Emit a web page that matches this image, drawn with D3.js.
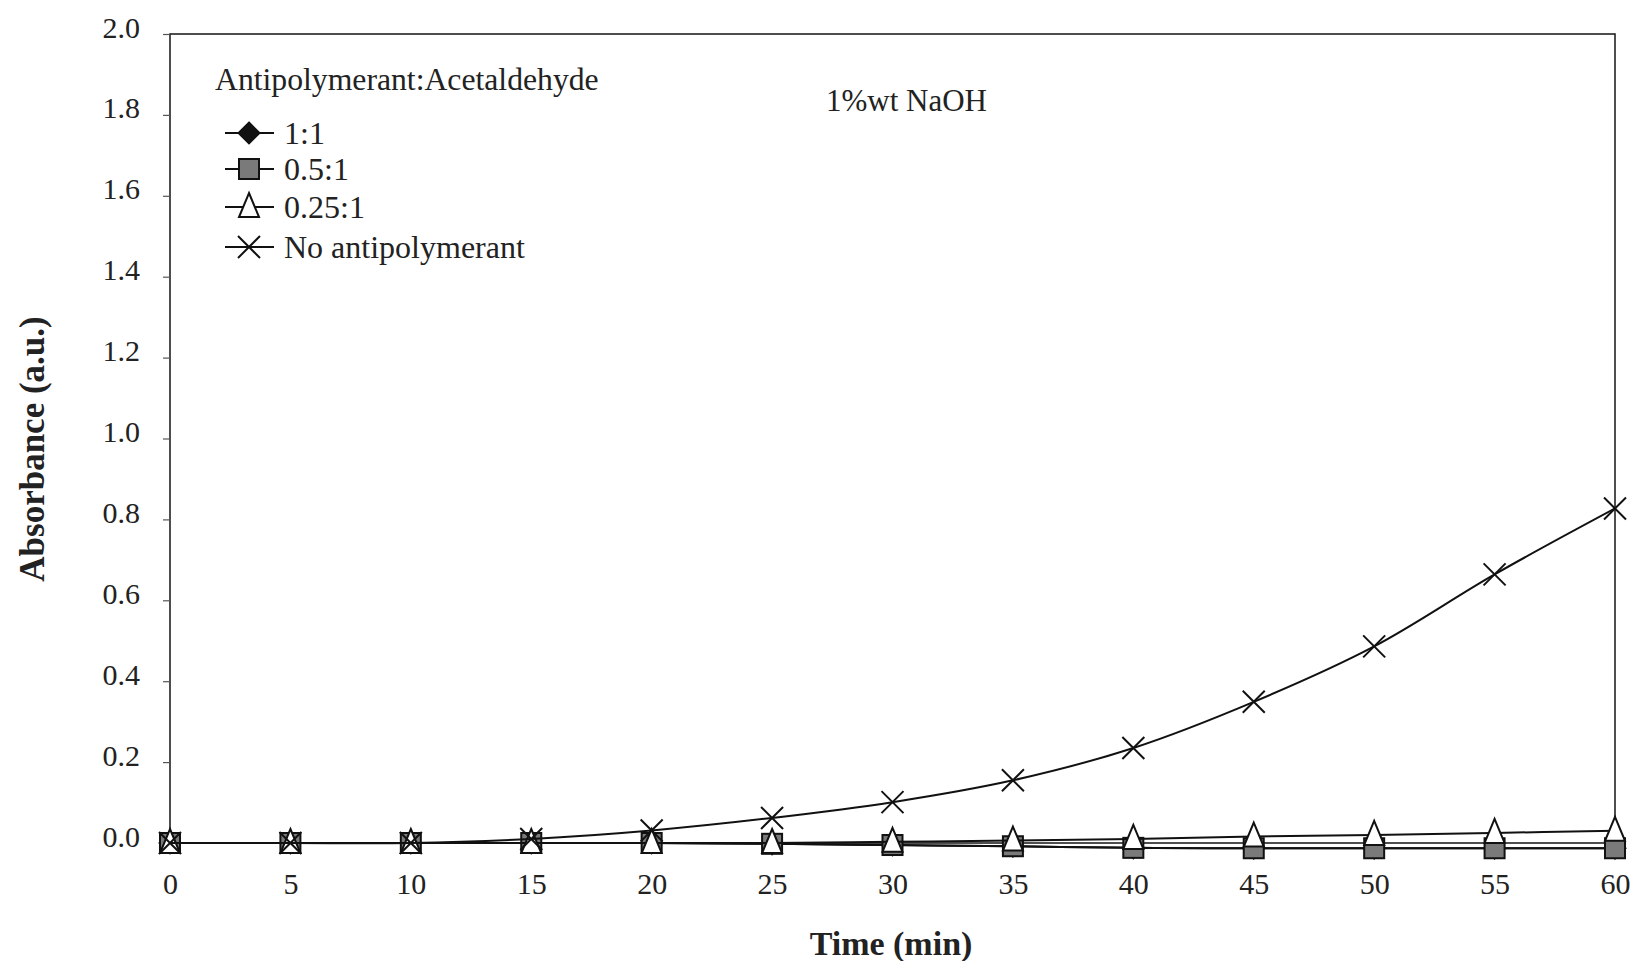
<!DOCTYPE html>
<html>
<head>
<meta charset="utf-8">
<script src="https://cdn.jsdelivr.net/npm/d3@7"></script>
<style>
  html, body { margin: 0; padding: 0; background: #fff; }
  svg { display: block; }
  text { font-family: "Liberation Serif", "DejaVu Serif", serif; fill: #222; }
</style>
</head>
<body>
<svg id="chart" width="1639" height="961"></svg>
<script>
// Time points (min)
const times = [0, 5, 10, 15, 20, 25, 30, 35, 40, 45, 50, 55, 60];

// Absorbance (a.u.) for each antipolymerant:acetaldehyde ratio
const ratio1to1    = [0, 0, 0, 0, 0, -0.002, -0.005, -0.008, -0.012, -0.013, -0.013, -0.013, -0.013];
const ratio05to1   = [0, 0, 0, 0, 0, -0.002, -0.005, -0.008, -0.012, -0.013, -0.013, -0.013, -0.013];
const ratio025to1  = [0, 0, 0, 0, 0, 0, 0.003, 0.006, 0.010, 0.016, 0.020, 0.025, 0.030];
const noAntipoly   = [0, 0, 0, 0.010, 0.031, 0.062, 0.101, 0.155, 0.235, 0.349, 0.486, 0.664, 0.827];

const yTicks = [0, 0.2, 0.4, 0.6, 0.8, 1.0, 1.2, 1.4, 1.6, 1.8, 2.0];
const xTicks = [0, 5, 10, 15, 20, 25, 30, 35, 40, 45, 50, 55, 60];

const seriesNames = ["1:1", "0.5:1", "0.25:1", "No antipolymerant"];
const seriesValues = [ratio1to1, ratio05to1, ratio025to1, noAntipoly];
const seriesMarkers = ["diamond", "square", "triangle", "cross"];

const svg = d3.select("#chart");
const plot = { left: 170, right: 1615, top: 34, bottom: 843 };

const x = d3.scaleLinear().domain([0, 60]).range([plot.left, plot.right]);
const y = d3.scaleLinear().domain([0, 2]).range([plot.bottom, plot.top]);

// Plot frame
svg.append("rect")
  .attr("x", plot.left).attr("y", plot.top)
  .attr("width", plot.right - plot.left).attr("height", plot.bottom - plot.top)
  .attr("fill", "none").attr("stroke", "#222").attr("stroke-width", 1.6);

// Y axis
const yAxis = svg.append("g")
  .attr("transform", `translate(${plot.left},0)`)
  .call(d3.axisLeft(y).tickValues(yTicks).tickFormat(d3.format(".1f")).tickSize(7).tickPadding(23));
yAxis.select(".domain").remove();
yAxis.selectAll("line").attr("stroke", "#555").attr("stroke-width", 1.2);
yAxis.selectAll("text").attr("font-size", 30).attr("dy", "0.1em")
  .style("font-family", "'Liberation Serif', serif").attr("fill", "#222");

// X axis
const xAxis = svg.append("g")
  .attr("transform", `translate(0,${plot.bottom})`)
  .call(d3.axisBottom(x).tickValues(xTicks).tickFormat(d3.format("d")).tickSize(0).tickPadding(30));
xAxis.select(".domain").remove();
xAxis.selectAll("text").attr("font-size", 30)
  .style("font-family", "'Liberation Serif', serif").attr("fill", "#222");

// Axis titles
svg.append("text")
  .attr("x", 891).attr("y", 955)
  .attr("text-anchor", "middle").attr("font-size", 34).attr("font-weight", "bold")
  .text("Time (min)");
svg.append("text")
  .attr("transform", "translate(44,449) rotate(-90)")
  .attr("text-anchor", "middle").attr("font-size", 35).attr("font-weight", "bold")
  .text("Absorbance (a.u.)");

// Marker drawing
function drawMarker(g, type, cx, cy) {
  if (type === "diamond") {
    g.append("path")
      .attr("d", `M${cx},${cy - 11}L${cx + 11},${cy}L${cx},${cy + 11}L${cx - 11},${cy}Z`)
      .attr("fill", "#111").attr("stroke", "#111").attr("stroke-width", 1.2);
  } else if (type === "square") {
    g.append("rect")
      .attr("x", cx - 10).attr("y", cy - 10).attr("width", 20).attr("height", 20)
      .attr("fill", "#7a7a7a").attr("stroke", "#111").attr("stroke-width", 2);
  } else if (type === "triangle") {
    g.append("path")
      .attr("d", `M${cx},${cy - 14}L${cx + 10},${cy + 10}L${cx - 10},${cy + 10}Z`)
      .attr("fill", "#fff").attr("stroke", "#111").attr("stroke-width", 2);
  } else {
    g.append("path")
      .attr("d", `M${cx - 11},${cy - 11}L${cx + 11},${cy + 11}M${cx - 11},${cy + 11}L${cx + 11},${cy - 11}`)
      .attr("fill", "none").attr("stroke", "#111").attr("stroke-width", 2);
  }
}

const line = d3.line()
  .x((d, i) => x(times[i]))
  .y(d => y(d))
  .curve(d3.curveCatmullRom.alpha(0.5));

seriesValues.forEach((vals, si) => {
  const g = svg.append("g");
  g.append("path")
    .attr("d", line(vals))
    .attr("fill", "none").attr("stroke", "#111").attr("stroke-width", 2);
  vals.forEach((v, i) => drawMarker(g, seriesMarkers[si], x(times[i]), y(v)));
});

// Legend
svg.append("text")
  .attr("x", 215).attr("y", 90).attr("font-size", 31.7)
  .text("Antipolymerant:Acetaldehyde");
const legendY = [133, 169, 207, 247];
seriesNames.forEach((name, i) => {
  const g = svg.append("g");
  g.append("line")
    .attr("x1", 225).attr("x2", 274).attr("y1", legendY[i]).attr("y2", legendY[i])
    .attr("stroke", "#111").attr("stroke-width", 2);
  drawMarker(g, seriesMarkers[i], 249, legendY[i]);
  g.append("text")
    .attr("x", 284).attr("y", legendY[i]).attr("dy", "0.35em").attr("font-size", 32)
    .text(name);
});

// Condition label
svg.append("text")
  .attr("x", 826).attr("y", 111).attr("font-size", 31)
  .text("1%wt NaOH");
</script>
</body>
</html>
